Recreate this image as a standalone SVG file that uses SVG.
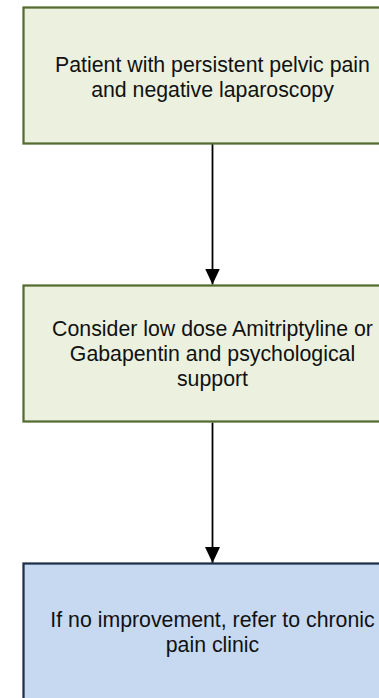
<svg xmlns="http://www.w3.org/2000/svg" width="379" height="698" viewBox="0 0 379 698">
<style>
.green rect{fill:#EBF1DE;stroke:#556B2F;stroke-width:2.25}
.blue rect{fill:#C6D9F1;stroke:#1F2F4A;stroke-width:2.25}
text{font-family:"Liberation Sans",Arial,sans-serif;font-size:21.3px;fill:#111;text-anchor:middle}
.conn line{stroke:#000;stroke-width:1.8}
</style>
<defs>
<marker id="arr" markerUnits="userSpaceOnUse" markerWidth="16" markerHeight="15" refX="16" refY="7.5" orient="auto">
<path d="M0,0 L16,7.5 L0,15 Z" fill="#000"/>
</marker>
</defs>
<g id="connectors" class="conn">
<line x1="212.5" y1="144" x2="212.5" y2="284.5" marker-end="url(#arr)"/>
<line x1="212.5" y1="422.5" x2="212.5" y2="563" marker-end="url(#arr)"/>
</g>
<g id="node1" class="green">
<rect x="23.5" y="7.5" width="380" height="136"/>
<text x="212.5" y="71.5">Patient with persistent pelvic pain</text>
<text x="212.5" y="97">and negative laparoscopy</text>
</g>
<g id="node2" class="green">
<rect x="23.5" y="285.5" width="380" height="136"/>
<text x="212.5" y="335.7">Consider low dose Amitriptyline or</text>
<text x="212.5" y="361">Gabapentin and psychological</text>
<text x="212.5" y="386.3">support</text>
</g>
<g id="node3" class="blue">
<rect x="23.5" y="563.5" width="380" height="140"/>
<text x="212.5" y="626.7">If no improvement, refer to chronic</text>
<text x="212.5" y="652">pain clinic</text>
</g>
</svg>
